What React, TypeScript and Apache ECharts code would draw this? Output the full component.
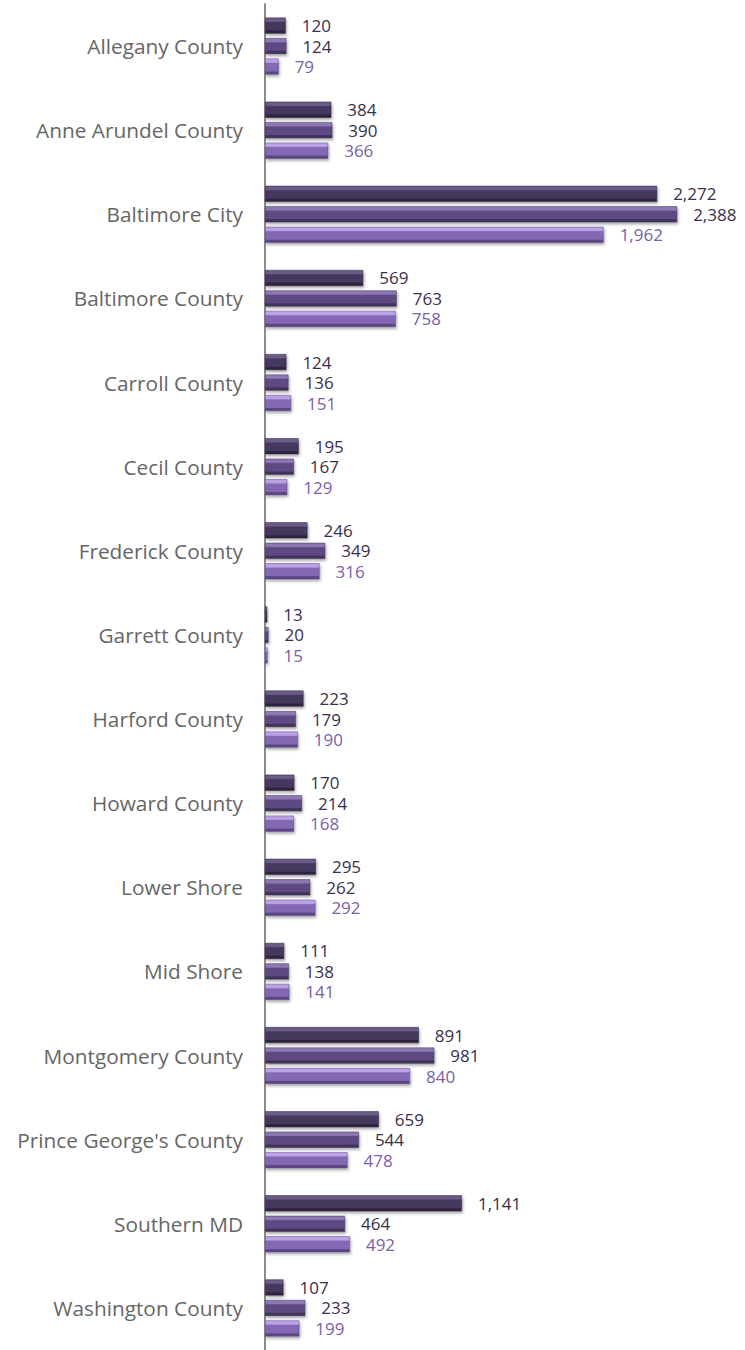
import React, { useEffect, useRef } from "react";
import * as echarts from "echarts";

const categories = [
  "Allegany County",
  "Anne Arundel County",
  "Baltimore City",
  "Baltimore County",
  "Carroll County",
  "Cecil County",
  "Frederick County",
  "Garrett County",
  "Harford County",
  "Howard County",
  "Lower Shore",
  "Mid Shore",
  "Montgomery County",
  "Prince George's County",
  "Southern MD",
  "Washington County",
];

const series1 = [120, 384, 2272, 569, 124, 195, 246, 13, 223, 170, 295, 111, 891, 659, 1141, 107];
const series2 = [124, 390, 2388, 763, 136, 167, 349, 20, 179, 214, 262, 138, 981, 544, 464, 233];
const series3 = [79, 366, 1962, 758, 151, 129, 316, 15, 190, 168, 292, 141, 840, 478, 492, 199];

const FONT = "'Open Sans', 'Noto Sans', sans-serif";

function bevel(light: string, base: string, dark: string) {
  return new echarts.graphic.LinearGradient(0, 0, 0, 1, [
    { offset: 0, color: light },
    { offset: 0.22, color: light },
    { offset: 0.3, color: base },
    { offset: 0.78, color: base },
    { offset: 0.85, color: dark },
    { offset: 1, color: dark },
  ]);
}

function makeSeries(name: string, data: number[], colors: [string, string, string], labelColor: string) {
  return {
    name,
    type: "bar",
    data,
    barWidth: 16,
    barGap: "28%",
    itemStyle: {
      color: bevel(colors[0], colors[1], colors[2]),
      borderColor: colors[2],
      borderWidth: 0.5,
      shadowColor: "rgba(0,0,0,0.35)",
      shadowBlur: 3,
      shadowOffsetX: 1,
      shadowOffsetY: 2,
    },
    label: {
      show: true,
      position: "right",
      distance: 16,
      color: labelColor,
      fontSize: 17,
      lineHeight: 17,
      fontFamily: FONT,
      formatter: (p: any) => Number(p.value).toLocaleString("en-US"),
    },
  };
}

export default function App() {
  const ref = useRef<HTMLDivElement>(null);
  useEffect(() => {
    if (!ref.current) return;
    const chart = echarts.init(ref.current, null, { renderer: "svg" });
    chart.setOption({
      animation: false,
      backgroundColor: "#ffffff",
      grid: { left: 265, right: 14, top: 4, bottom: 0, containLabel: false },
      xAxis: {
        type: "value",
        min: 0,
        max: 2700,
        show: false,
      },
      yAxis: {
        type: "category",
        data: categories,
        inverse: true,
        axisLine: { show: true, lineStyle: { color: "#8c8c8c", width: 2 } },
        axisTick: { show: false },
        axisLabel: {
          color: "#666666",
          fontSize: 20.8,
          fontFamily: FONT,
          margin: 22,
        },
      },
      series: [
        makeSeries("S1", series1, ["#6b5b86", "#45375d", "#2e2440"], "#3a2f4c"),
        makeSeries("S2", series2, ["#8e78b3", "#5e4984", "#3f3159"], "#3a2f4c"),
        makeSeries("S3", series3, ["#baa2e4", "#8467b4", "#5c4585"], "#7b60a8"),
      ],
    });
    return () => chart.dispose();
  }, []);
  return (
    <div
      ref={ref}
      style={{ position: "absolute", left: 0, top: 0, width: 745, height: 1350 }}
    />
  );
}
